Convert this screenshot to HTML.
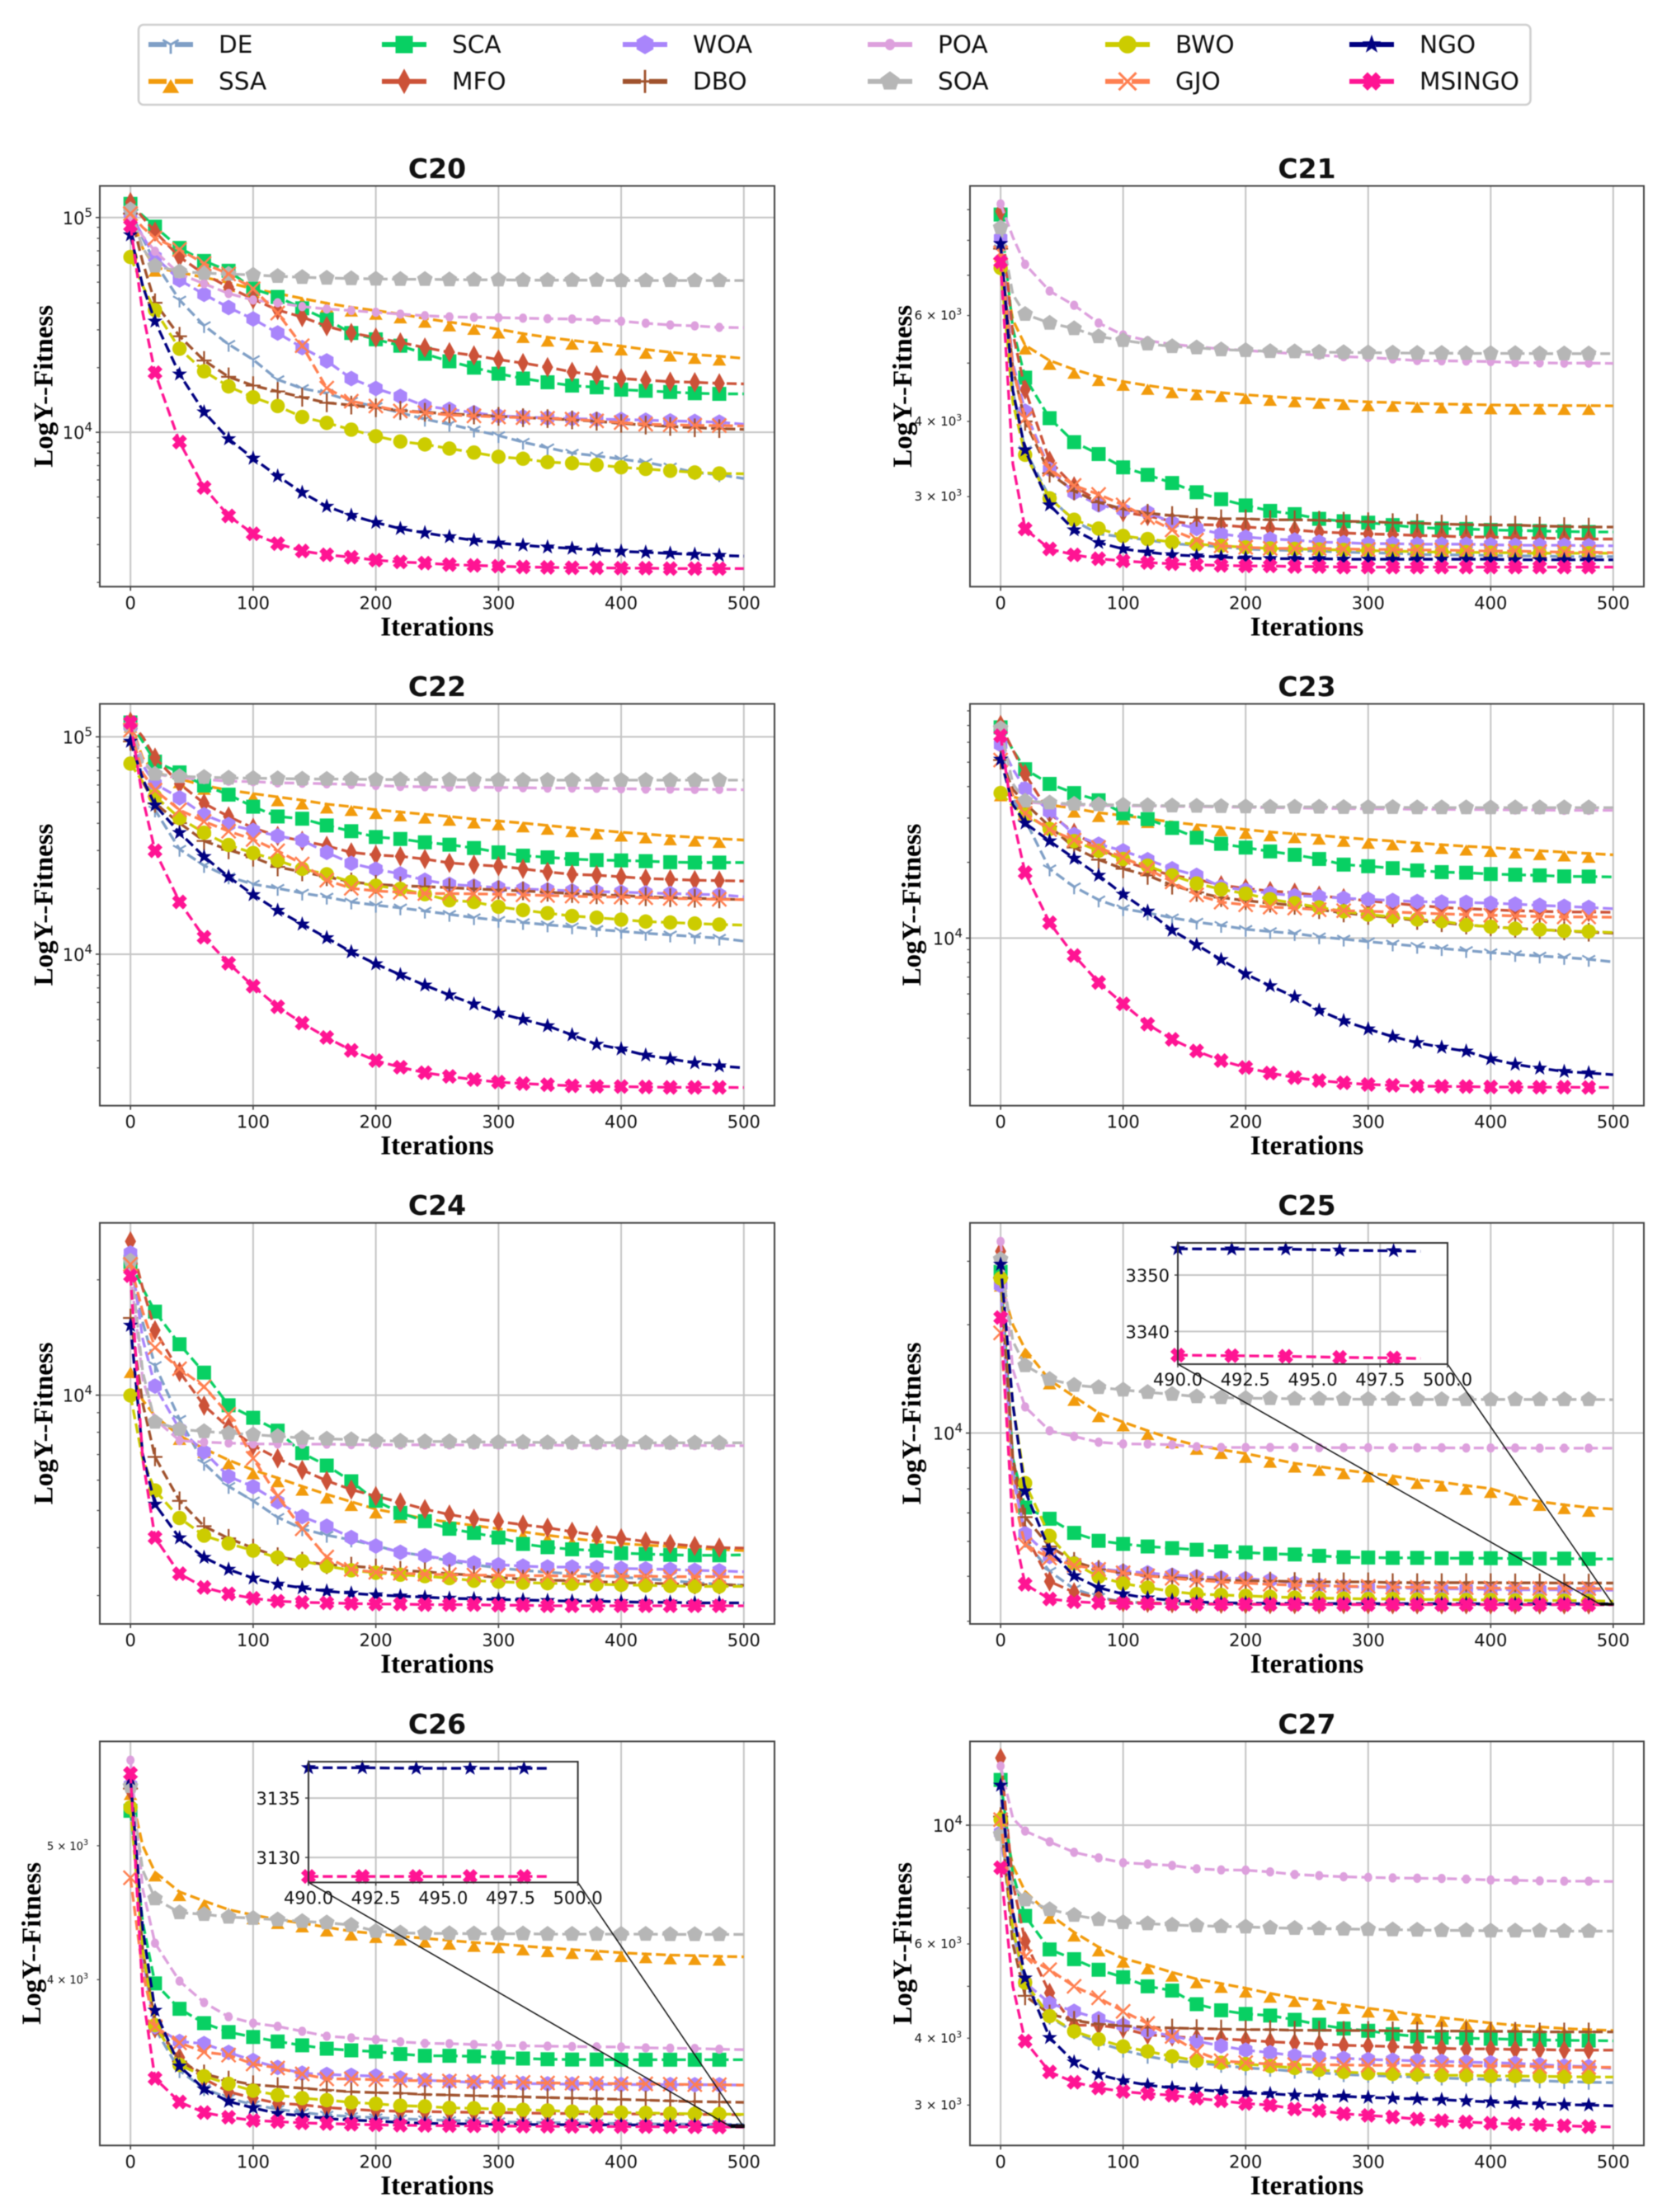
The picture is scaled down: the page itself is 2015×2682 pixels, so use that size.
<!DOCTYPE html>
<html lang="en">
<head>
<meta charset="utf-8">
<title>Convergence curves C20-C27</title>
<style>
html,body{margin:0;padding:0;background:#fff;}
svg{display:block;filter:blur(.55px);}
text{font-family:"DejaVu Sans",sans-serif;fill:#111;}
.serif{font-family:"Liberation Serif",serif;font-weight:bold;fill:#000;}
</style>
</head>
<body>
<svg id="figure" xmlns="http://www.w3.org/2000/svg" width="2015" height="2682" viewBox="0 0 2015 2682"></svg>
<script>
const ITERATIONS=[0,20,40,60,80,100,120,140,160,180,200,220,240,260,280,300,320,340,360,380,400,420,440,460,480,500];
const KNEE_ITERATION=10;
const X_TICKS=[0,100,200,300,400,500];
const SERIES_NAMES=['DE','SSA','SCA','MFO','WOA','DBO','POA','SOA','BWO','GJO','NGO','MSINGO'];
const SERIES_COLORS=['#7f9fc6','#f29b0c','#08d063','#cc5238','#a985fb','#a0522d','#dda0dd','#b6b6b6','#cccc00','#ff7f50','#000080','#ff1493'];
const SERIES_MARKERS=['tri','up','square','thin','hex','plus','dot','pent','circle','x','star','fatx'];

const C20_DE=[108000,61700,41300,31400,25700,21800,17600,16000,15200,13960,13180,12340,11510,10900,10250,9660,9000,8470,8000,7770,7500,7240,6900,6500,6350,6090];
const C20_SSA=[104300,58600,55500,52700,49700,46600,44300,42000,39900,38200,36900,35500,33900,32600,31400,30200,28800,27700,26800,26000,25200,24300,23600,23000,22600,22100];
const C20_SCA=[115800,90700,72200,62800,56500,46600,42700,37800,33500,29000,27100,25300,23200,21400,20000,18750,17800,17100,16500,16200,15800,15600,15400,15200,15100,15100];
const C20_MFO=[117900,86000,65500,54600,47400,41700,37100,34400,31200,29000,27600,26200,24800,23600,22800,21800,21000,20100,19100,18450,17800,17500,17200,17100,16900,16800];
const C20_WOA=[104300,65500,51250,43900,38100,33700,29000,24800,21500,17800,16000,14700,13250,12800,12340,11920,11790,11660,11580,11510,11470,11390,11300,11230,11150,10900];
const C20_DBO=[104300,40100,28000,21600,18120,16500,15500,14560,13720,13380,13000,12650,12400,12200,12040,11870,11700,11580,11420,11250,11000,10800,10650,10500,10400,10320];
const C20_POA=[97200,69700,54600,49200,44300,41300,40100,38500,37500,36900,36200,35500,34900,34500,34300,34200,34000,33800,33700,33300,32900,32200,31600,31300,30800,30700];
const C20_SOA=[108800,59600,56100,55100,54600,54000,53300,52700,52300,52000,51800,51600,51600,51400,51300,51300,51100,51100,51100,51100,50900,50900,50900,50900,50900,50900];
const C20_BWO=[65500,37100,24500,19230,16360,14560,13250,11790,11060,10290,9590,9060,8780,8400,8050,7690,7530,7260,7180,7050,6870,6750,6620,6500,6430,6410];
const C20_GJO=[104300,80200,71000,61100,54600,46600,35900,25300,16060,13960,13250,12560,12340,12040,11920,11790,11700,11620,11510,11300,11100,10900,10840,10770,10740,10700];
const C20_NGO=[83000,32900,18650,12420,9320,7560,6250,5240,4520,4100,3800,3560,3400,3260,3140,3050,2980,2920,2880,2830,2790,2760,2730,2700,2670,2650];
const C20_MSINGO=[91600,18950,9000,5530,4080,3370,3030,2800,2690,2620,2540,2490,2460,2420,2400,2380,2360,2350,2340,2340,2330,2330,2320,2320,2320,2320];
const C20_AT_KNEE=[80000,72000,102000,100000,82000,62000,82000,72000,48000,90000,48000,36000];

const C21_DE=[7750,3585,2990,2735,2600,2570,2540,2505,2490,2475,2455,2445,2440,2435,2425,2420,2415,2405,2400,2400,2395,2390,2390,2385,2385,2385];
const C21_SSA=[7630,5355,5050,4880,4745,4660,4590,4530,4495,4465,4430,4400,4375,4350,4330,4310,4300,4285,4275,4270,4260,4255,4255,4250,4250,4245];
const C21_SCA=[8830,4730,4050,3695,3530,3355,3260,3160,3050,2970,2900,2840,2805,2755,2730,2715,2690,2665,2655,2650,2640,2635,2630,2625,2620,2620];
const C21_MFO=[8940,4520,3440,3120,2950,2825,2785,2730,2695,2690,2670,2655,2640,2620,2610,2600,2595,2585,2580,2570,2570,2560,2560,2555,2550,2550];
const C21_WOA=[8060,4160,3330,3045,2905,2850,2825,2715,2655,2600,2570,2550,2540,2520,2515,2505,2505,2500,2500,2500,2495,2490,2490,2490,2485,2485];
const C21_DBO=[7750,4000,3280,3065,2935,2860,2815,2790,2770,2755,2755,2745,2745,2740,2730,2725,2715,2710,2700,2695,2690,2690,2680,2675,2670,2670];
const C21_POA=[9197,7300,6590,6240,5830,5570,5450,5375,5323,5280,5250,5215,5185,5155,5125,5110,5080,5050,5045,5040,5030,5010,5005,5000,5000,4995];
const C21_SOA=[8400,6030,5830,5708,5535,5455,5385,5330,5305,5265,5250,5230,5225,5215,5210,5205,5200,5195,5195,5190,5190,5190,5185,5185,5185,5185];
const C21_BWO=[7200,3520,2980,2745,2655,2580,2550,2520,2500,2485,2470,2460,2455,2450,2445,2440,2435,2430,2425,2425,2420,2420,2415,2415,2415,2415];
const C21_GJO=[7630,4045,3330,3130,3025,2905,2770,2640,2540,2485,2470,2460,2460,2460,2455,2450,2450,2445,2445,2440,2435,2435,2430,2425,2425,2420];
const C21_NGO=[7900,3585,2905,2640,2515,2455,2425,2400,2390,2380,2370,2365,2365,2365,2360,2360,2360,2360,2360,2360,2360,2355,2355,2355,2355,2355];
const C21_MSINGO=[7370,2650,2455,2400,2365,2345,2330,2320,2310,2305,2300,2300,2295,2295,2290,2290,2290,2290,2290,2290,2290,2290,2290,2290,2290,2290];
const C21_AT_KNEE=[4500,5900,5700,5600,5000,4900,8100,6500,4300,4900,4500,3400];

const C22_DE=[111300,46100,30400,25600,22700,21000,20100,19100,18320,17390,16800,16340,15790,15250,14730,14320,13990,13650,13370,13000,12740,12480,12270,12050,11850,11490];
const C22_SSA=[115200,68600,64000,59700,56800,54800,52900,51100,49000,47700,46200,45100,44000,43000,41800,41000,40100,39100,38100,37200,36400,35700,35000,34500,34000,33500];
const C22_SCA=[116400,76900,68600,59700,54200,47700,43000,42000,39100,36800,34600,33900,32700,31900,30800,29400,28400,27900,27400,27100,27000,26800,26500,26400,26400,26400];
const C22_MFO=[117200,80200,60800,49400,43000,38100,35000,33200,31500,29400,28600,28200,27400,26300,25800,25400,24700,23900,23300,23100,22700,22300,22100,21900,21800,21700];
const C22_WOA=[111300,60800,52400,43800,39500,37100,35000,33400,29400,26200,24600,23400,21900,20950,20600,20240,19960,19770,19550,19410,19280,19150,19010,18880,18760,18370];
const C22_DBO=[95300,49400,40100,33200,30200,27900,25200,23900,22700,21500,20950,20650,20450,20240,19960,19770,19550,19280,19010,18760,18620,18370,18200,18070,17950,17820];
const C22_POA=[113200,67400,64700,63600,62500,62200,61400,61200,60800,60400,59700,59100,58900,58700,58700,58500,58300,58100,58100,58000,57700,57500,57500,57300,57300,57100];
const C22_SOA=[111300,67400,65800,65200,64700,64500,64300,64000,63900,63900,63600,63600,63600,63400,63400,63400,63200,63200,63200,63200,63200,63200,63200,63200,63200,63200];
const C22_BWO=[75300,53300,42300,36200,31800,29200,27000,24700,23300,21500,20650,19960,18880,17700,17390,16520,15950,15450,14990,14730,14420,14130,13990,13840,13700,13610];
const C22_GJO=[107500,56800,46100,40800,36800,33700,29900,26000,21900,20100,19550,19280,19010,19010,18950,18880,18760,18620,18500,18370,18320,18200,18070,17950,17890,17820];
const C22_NGO=[95300,48500,36200,28100,22700,18770,15890,13740,11890,10240,9020,8040,7200,6490,5890,5350,5010,4680,4250,3850,3660,3430,3300,3160,3060,3000];
const C22_MSINGO=[116500,29900,17400,11970,9080,7130,5730,4820,4140,3610,3240,3020,2850,2740,2650,2580,2540,2510,2480,2465,2460,2450,2440,2440,2440,2435];
const C22_AT_KNEE=[64000,80000,95000,100000,74000,62000,78000,76000,62000,68000,64000,52000];

const C23_DE=[58700,29500,18850,15990,14190,13090,12590,12040,11580,11240,10840,10620,10430,10120,9910,9680,9480,9280,9090,8930,8750,8610,8490,8380,8240,8040];
const C23_SSA=[38050,35300,33800,32800,31500,30700,29800,28900,28200,27650,27000,26400,25950,25600,25100,24660,24300,23880,23500,23170,22900,22560,22230,21960,21690,21430];
const C23_SCA=[68800,46900,41000,37700,35300,31300,29700,27400,25050,23700,22900,22100,21430,20620,19590,19300,18960,18570,18290,18190,17970,17860,17750,17590,17560,17500];
const C23_MFO=[70300,44900,31300,26200,22900,20300,18850,17750,17130,16220,15760,15380,15150,14750,14400,14060,13770,13490,13240,13090,12970,12850,12780,12700,12700,12660];
const C23_WOA=[58700,39200,31800,25800,23600,22230,20500,18850,17750,15990,15520,15060,14750,14620,14400,14270,14100,13970,13900,13860,13770,13650,13490,13370,13240,13090];
const C23_DBO=[51000,34300,27800,22900,20500,18850,17750,16220,15200,14490,14100,13770,13490,12970,12590,12300,12040,11750,11510,11270,11100,10940,10810,10680,10550,10460];
const C23_POA=[68200,34800,34100,33850,33660,33570,33480,33390,33300,33200,33100,33000,32900,32800,32700,32700,32600,32500,32500,32400,32400,32300,32300,32200,32200,32200];
const C23_SOA=[68200,35100,34500,34100,33950,33800,33660,33570,33480,33390,33300,33200,33200,33200,33100,33100,33100,33000,33000,33000,33000,33000,33000,33000,33000,33000];
const C23_BWO=[37700,30900,27150,24300,22230,20620,19410,17750,16490,15620,15020,14270,13770,13240,12780,12400,12140,11860,11680,11270,11100,10900,10810,10680,10620,10520];
const C23_GJO=[51000,31300,27000,24500,22900,20940,18850,16730,14840,13900,13560,13280,13160,12970,12850,12780,12700,12590,12480,12400,12330,12250,12190,12140,12140,12100];
const C23_NGO=[51300,28650,24300,20750,17750,14930,12780,10740,9400,8210,7200,6460,5840,5160,4690,4350,4060,3840,3680,3550,3310,3150,3040,2950,2910,2865];
const C23_MSINGO=[63700,18200,11510,8530,6660,5480,4550,3960,3560,3260,3060,2910,2790,2715,2660,2620,2600,2580,2575,2570,2560,2560,2555,2555,2550,2550];
const C23_AT_KNEE=[36000,36500,56000,56000,47000,39000,41000,41000,33500,37000,34000,30000];

const C24_DE=[21730,11960,8650,6640,5780,5300,4800,4480,4310,4190,4050,3890,3810,3690,3610,3540,3490,3450,3420,3390,3350,3320,3280,3240,3210,3190];
const C24_SSA=[11720,8820,7840,7250,6770,6380,6080,5780,5510,5270,5040,4900,4760,4660,4570,4480,4400,4310,4230,4160,4100,4060,4030,3990,3960,3930];
const C24_SCA=[22260,16520,13580,11450,9410,8730,8080,7060,6550,5960,5300,4930,4690,4480,4370,4250,4090,4010,3960,3930,3870,3850,3830,3820,3820,3830];
const C24_MFO=[25200,14770,11500,9390,8240,7390,6840,6380,5980,5670,5450,5250,5040,4880,4760,4680,4590,4510,4400,4310,4230,4150,4090,4040,4000,3990];
const C24_WOA=[23500,10560,8150,7110,6140,5770,5270,4820,4550,4250,4040,3890,3810,3720,3650,3610,3580,3560,3560,3550,3530,3520,3510,3490,3480,3460];
const C24_DBO=[15900,6900,5300,4550,4230,3990,3790,3690,3610,3580,3540,3490,3460,3420,3390,3340,3310,3290,3280,3260,3240,3230,3220,3200,3200,3190];
const C24_POA=[20900,8650,7610,7540,7500,7460,7460,7450,7450,7430,7430,7420,7420,7420,7410,7410,7410,7410,7390,7390,7390,7390,7390,7390,7380,7380];
const C24_SOA=[22400,8510,8150,8040,7960,7890,7810,7730,7690,7660,7610,7590,7570,7570,7550,7540,7540,7520,7520,7520,7520,7510,7510,7510,7510,7510];
const C24_BWO=[9980,5640,4780,4300,4100,3930,3770,3690,3580,3490,3440,3400,3370,3330,3280,3260,3240,3230,3220,3210,3200,3190,3180,3170,3170,3170];
const C24_GJO=[21960,13310,11720,10520,8910,6840,5450,4480,3780,3510,3450,3430,3410,3400,3390,3390,3380,3380,3370,3370,3370,3370,3360,3360,3360,3350];
const C24_NGO=[15210,5190,4240,3770,3510,3330,3210,3140,3080,3040,3010,2990,2970,2950,2940,2930,2920,2910,2900,2900,2890,2880,2880,2870,2870,2870];
const C24_MSINGO=[20500,4250,3420,3150,3030,2950,2900,2880,2870,2860,2850,2850,2840,2840,2840,2830,2830,2820,2820,2820,2820,2820,2820,2820,2820,2820];
const C24_AT_KNEE=[15500,9700,19000,19000,14000,9500,11000,11500,6800,16500,7000,6800];

const C25_DE=[27500,5040,4130,3690,3500,3400,3370,3355,3350,3348,3346,3345,3344,3343,3343,3342,3342,3341,3341,3340,3340,3340,3339,3339,3338,3338];
const C25_SSA=[26240,17100,14030,12630,11380,10730,10150,9630,9240,8990,8770,8500,8240,8070,7900,7740,7600,7420,7300,7150,7010,6680,6450,6320,6210,6150];
const C25_SCA=[28050,6210,5780,5280,5020,4920,4840,4790,4740,4690,4660,4620,4600,4560,4520,4510,4500,4500,4490,4490,4490,4480,4480,4480,4470,4470];
const C25_MFO=[31990,5260,3870,3610,3480,3390,3375,3365,3358,3354,3350,3348,3347,3346,3345,3344,3343,3342,3342,3341,3341,3340,3340,3340,3340,3339];
const C25_WOA=[25700,5260,4540,4360,4200,4130,4090,4030,3990,3960,3940,3900,3830,3780,3750,3730,3720,3700,3690,3690,3680,3670,3670,3670,3660,3660];
const C25_DBO=[27000,5840,4840,4400,4180,4090,4010,3970,3930,3900,3890,3880,3870,3860,3860,3860,3840,3840,3840,3840,3840,3835,3835,3830,3830,3830];
const C25_POA=[34060,11820,10150,9790,9430,9330,9320,9280,9160,9120,9120,9120,9120,9110,9110,9110,9100,9100,9100,9090,9090,9090,9080,9080,9080,9080];
const C25_SOA=[30400,15400,14110,13590,13390,13180,12980,12820,12630,12550,12500,12480,12450,12450,12420,12420,12420,12400,12400,12400,12400,12400,12400,12400,12400,12380];
const C25_BWO=[26900,7260,5180,4340,3990,3820,3720,3630,3570,3550,3530,3510,3490,3480,3470,3460,3460,3450,3445,3440,3440,3430,3425,3425,3420,3410];
const C25_GJO=[18980,4890,4500,4290,4180,4090,4010,3950,3900,3860,3830,3800,3780,3770,3750,3750,3730,3730,3720,3720,3710,3710,3700,3700,3700,3690];
const C25_NGO=[29430,6900,4720,4010,3720,3570,3480,3430,3395,3375,3368,3364,3361,3360,3359,3358,3358,3357,3357,3356,3356,3355,3355,3355,3354.4,3354.2];
const C25_MSINGO=[20940,3800,3460,3400,3375,3365,3360,3352,3348,3345,3343,3342,3341,3340,3339.5,3339,3338.5,3338,3337.5,3337,3337,3336.5,3336.3,3336,3335.7,3335.3];
const C25_AT_KNEE=[8000,20000,8500,8000,7500,8500,15000,18000,12000,6800,12000,5500];

const C26_DE=[5500,3688,3437,3336,3283,3247,3223,3205,3192,3184,3178,3172,3167,3163,3160,3157,3153,3152,3150,3148,3147,3145,3145,3143,3143,3142];
const C26_SSA=[5480,4785,4630,4560,4495,4455,4420,4395,4365,4336,4318,4300,4285,4270,4255,4245,4230,4218,4205,4195,4183,4175,4167,4163,4158,4155];
const C26_SCA=[5300,3975,3810,3720,3665,3635,3608,3585,3565,3555,3548,3533,3523,3523,3520,3513,3507,3503,3501,3501,3500,3500,3500,3500,3500,3500];
const C26_MFO=[5480,3688,3513,3390,3318,3283,3255,3247,3232,3223,3215,3212,3210,3208,3206,3205,3203,3200,3200,3198,3198,3197,3197,3195,3195,3193];
const C26_WOA=[5530,3698,3608,3595,3543,3495,3455,3422,3415,3410,3406,3395,3383,3376,3370,3366,3364,3362,3360,3360,3358,3358,3358,3357,3357,3355];
const C26_DBO=[5500,3730,3490,3418,3383,3357,3347,3338,3327,3318,3313,3310,3303,3300,3296,3293,3290,3286,3283,3280,3276,3272,3268,3264,3262,3260];
const C26_POA=[5767,4250,3990,3850,3760,3720,3700,3670,3640,3630,3620,3606,3597,3595,3590,3585,3582,3580,3578,3576,3575,3570,3568,3566,3562,3559];
const C26_SOA=[5520,4578,4473,4460,4440,4431,4420,4408,4398,4381,4336,4325,4320,4320,4318,4318,4318,4315,4315,4315,4315,4315,4313,4313,4313,4313];
const C26_BWO=[5330,3708,3470,3405,3362,3324,3300,3283,3272,3260,3252,3242,3238,3230,3228,3223,3220,3216,3210,3208,3205,3203,3200,3198,3197,3195];
const C26_GJO=[4740,3698,3600,3545,3527,3475,3452,3418,3390,3390,3385,3381,3380,3378,3375,3373,3370,3367,3366,3365,3363,3362,3360,3358,3357,3355];
const C26_NGO=[5590,3800,3463,3333,3265,3230,3200,3188,3173,3165,3160,3153,3148,3146,3144,3143,3142,3141,3140.5,3140,3139.6,3139.2,3138.8,3138.3,3137.8,3137.5];
const C26_MSINGO=[5640,3393,3262,3205,3180,3163,3157,3150,3147,3143,3140,3138,3136.5,3135.5,3134.5,3134,3133,3132.5,3132,3131.5,3131,3130.5,3130,3129.5,3128.6,3128.3];
const C26_AT_KNEE=[4150,5000,4400,4200,4150,4200,4650,4800,4200,4050,4350,3900];

const C27_DE=[10100,5000,4380,4110,3920,3800,3700,3630,3600,3560,3520,3500,3470,3450,3420,3410,3395,3385,3370,3360,3350,3340,3330,3320,3310,3305];
const C27_SSA=[10680,7520,6810,6310,5920,5640,5480,5310,5160,5060,4960,4850,4760,4700,4620,4550,4490,4420,4370,4320,4270,4230,4200,4170,4150,4135];
const C27_SCA=[12150,6770,5860,5620,5370,5200,5000,4910,4630,4510,4440,4410,4330,4240,4170,4130,4070,4030,4010,4000,3990,3980,3970,3965,3960,3955];
const C27_MFO=[13350,6070,4860,4230,4230,4170,4060,4030,4000,3990,3965,3940,3920,3900,3880,3870,3860,3840,3830,3820,3820,3810,3810,3800,3800,3800];
const C27_WOA=[9680,5080,4650,4490,4350,4230,4120,4040,3950,3870,3800,3760,3710,3690,3670,3650,3640,3630,3620,3610,3600,3590,3570,3550,3540,3510];
const C27_DBO=[10380,4800,4440,4320,4250,4220,4190,4180,4170,4160,4150,4150,4140,4140,4135,4135,4130,4125,4125,4125,4120,4120,4110,4110,4110,4110];
const C27_POA=[12900,9750,9310,8900,8690,8510,8460,8410,8290,8250,8240,8180,8090,8050,8010,7990,7970,7960,7950,7930,7900,7890,7870,7860,7860,7850];
const C27_SOA=[9610,7260,6960,6790,6670,6580,6550,6510,6490,6470,6460,6430,6420,6410,6400,6390,6380,6370,6360,6360,6350,6350,6350,6340,6340,6340];
const C27_BWO=[10240,5080,4400,4120,3980,3860,3780,3700,3630,3600,3580,3550,3520,3490,3460,3440,3430,3420,3410,3410,3400,3400,3395,3390,3385,3385];
const C27_GJO=[10240,5680,5370,5000,4760,4490,4260,4030,3780,3630,3600,3580,3570,3570,3565,3560,3560,3555,3555,3550,3550,3550,3540,3535,3530,3530];
const C27_NGO=[11870,5180,4010,3610,3420,3330,3270,3230,3210,3180,3160,3150,3130,3120,3115,3100,3090,3080,3070,3055,3040,3030,3015,3005,3000,2990];
const C27_MSINGO=[8330,3950,3460,3310,3230,3180,3150,3130,3090,3055,3020,3000,2950,2930,2890,2870,2850,2825,2805,2790,2775,2765,2755,2745,2735,2730];
const C27_AT_KNEE=[6400,8400,8100,7800,6300,6000,10300,7700,6400,6800,6900,5000];

const INSET_ITERATIONS=[490,492,494,496,498,499];
const INSET_X_TICKS=[490,492.5,495,497.5,500];
const C25_INSET_NGO=[3354.65,3354.6,3354.6,3354.4,3354.3,3354.2];
const C25_INSET_MSINGO=[3335.8,3335.7,3335.6,3335.4,3335.3,3335.2];
const C26_INSET_NGO=[3137.55,3137.55,3137.5,3137.5,3137.5,3137.5];
const C26_INSET_MSINGO=[3128.4,3128.4,3128.4,3128.4,3128.4,3128.4];

const COLUMNS=[{left:121,right:939},{left:1176,right:1993}];
const ROWS=[{top:225.4,bottom:711.3},{top:853.4,bottom:1340.6},{top:1482.7,bottom:1969},{top:2111.4,bottom:2601.3}];

const PANELS=[
 {title:'C20',col:0,row:0,yMin:1911,yMax:140400,major:[100000,10000],labeled:[],labelX:63.6,knee:C20_AT_KNEE,series:[C20_DE,C20_SSA,C20_SCA,C20_MFO,C20_WOA,C20_DBO,C20_POA,C20_SOA,C20_BWO,C20_GJO,C20_NGO,C20_MSINGO]},
 {title:'C21',col:1,row:0,yMin:2125,yMax:9855,major:[],labeled:[6000,4000,3000],labelX:1105,knee:C21_AT_KNEE,series:[C21_DE,C21_SSA,C21_SCA,C21_MFO,C21_WOA,C21_DBO,C21_POA,C21_SOA,C21_BWO,C21_GJO,C21_NGO,C21_MSINGO]},
 {title:'C22',col:0,row:1,yMin:2010,yMax:141800,major:[100000,10000],labeled:[],labelX:63.6,knee:C22_AT_KNEE,series:[C22_DE,C22_SSA,C22_SCA,C22_MFO,C22_WOA,C22_DBO,C22_POA,C22_SOA,C22_BWO,C22_GJO,C22_NGO,C22_MSINGO]},
 {title:'C23',col:1,row:1,yMin:2158,yMax:85300,major:[10000],labeled:[],labelX:1116,knee:C23_AT_KNEE,series:[C23_DE,C23_SSA,C23_SCA,C23_MFO,C23_WOA,C23_DBO,C23_POA,C23_SOA,C23_BWO,C23_GJO,C23_NGO,C23_MSINGO]},
 {title:'C24',col:0,row:2,yMin:2529,yMax:28160,major:[10000],labeled:[],labelX:63.6,knee:C24_AT_KNEE,series:[C24_DE,C24_SSA,C24_SCA,C24_MFO,C24_WOA,C24_DBO,C24_POA,C24_SOA,C24_BWO,C24_GJO,C24_NGO,C24_MSINGO]},
 {title:'C25',col:1,row:2,yMin:2949,yMax:38370,major:[10000],labeled:[],labelX:1116,knee:C25_AT_KNEE,series:[C25_DE,C25_SSA,C25_SCA,C25_MFO,C25_WOA,C25_DBO,C25_POA,C25_SOA,C25_BWO,C25_GJO,C25_NGO,C25_MSINGO],
  inset:{left:1428,right:1755,top:1507,bottom:1654,yMin:3334.2,yMax:3355.7,yTicks:[3350,3340],ngo:C25_INSET_NGO,msingo:C25_INSET_MSINGO}},
 {title:'C26',col:0,row:3,yMin:3034,yMax:5950,major:[],labeled:[5000,4000],labelX:49,smallLabels:true,knee:C26_AT_KNEE,series:[C26_DE,C26_SSA,C26_SCA,C26_MFO,C26_WOA,C26_DBO,C26_POA,C26_SOA,C26_BWO,C26_GJO,C26_NGO,C26_MSINGO],
  inset:{left:374,right:700.6,top:2136,bottom:2282.4,yMin:3127.9,yMax:3138.06,yTicks:[3135,3130],ngo:C26_INSET_NGO,msingo:C26_INSET_MSINGO}},
 {title:'C27',col:1,row:3,yMin:2522,yMax:14340,major:[10000],labeled:[6000,4000,3000],labelX:1105,knee:C27_AT_KNEE,series:[C27_DE,C27_SSA,C27_SCA,C27_MFO,C27_WOA,C27_DBO,C27_POA,C27_SOA,C27_BWO,C27_GJO,C27_NGO,C27_MSINGO]}
];

const NS='http://www.w3.org/2000/svg';
const figure=document.getElementById('figure');
const CHART_MARKER_SCALE=1.13;

function make(tag,attrs,parent){
  const e=document.createElementNS(NS,tag);
  for(const k in attrs){e.setAttribute(k,attrs[k]);}
  if(parent){parent.appendChild(e);}
  return e;
}
function regular(n,r,rot){
  const pts=[];
  for(let i=0;i<n;i++){
    const a=rot+i*2*Math.PI/n;
    pts.push((r*Math.cos(a)).toFixed(2)+','+(r*Math.sin(a)).toFixed(2));
  }
  return pts.join(' ');
}
function starPoints(R,r){
  const pts=[];
  for(let i=0;i<10;i++){
    const a=-Math.PI/2+i*Math.PI/5;
    const q=i%2?r:R;
    pts.push((q*Math.cos(a)).toFixed(2)+','+(q*Math.sin(a)).toFixed(2));
  }
  return pts.join(' ');
}
function drawMarker(kind,cx,cy,s,color,parent){
  const g=make('g',{transform:'translate('+cx.toFixed(2)+' '+cy.toFixed(2)+') scale('+s+')'},parent);
  if(kind==='tri'){make('path',{d:'M0 0V8M0 0L-6.9-4M0 0L6.9-4',fill:'none',stroke:color,'stroke-width':2},g);}
  else if(kind==='up'){make('polygon',{points:'0,-2 7.3,10 -7.3,10',fill:color},g);}
  else if(kind==='square'){make('rect',{x:-7.5,y:-7.5,width:15,height:15,fill:color},g);}
  else if(kind==='thin'){make('polygon',{points:'0,-11 6,0 0,11 -6,0',fill:color},g);}
  else if(kind==='hex'){make('polygon',{points:regular(6,8.4,-Math.PI/2),fill:color},g);}
  else if(kind==='plus'){make('path',{d:'M0-10V10M-8 0H8',fill:'none',stroke:color,'stroke-width':2},g);}
  else if(kind==='dot'){make('ellipse',{cx:0,cy:0,rx:4.4,ry:5,fill:color},g);}
  else if(kind==='pent'){make('polygon',{points:regular(5,8.8,-Math.PI/2),fill:color},g);}
  else if(kind==='circle'){make('circle',{cx:0,cy:0,r:7.7,fill:color},g);}
  else if(kind==='x'){make('path',{d:'M-7.5-7.5L7.5 7.5M-7.5 7.5L7.5-7.5',fill:'none',stroke:color,'stroke-width':2.2},g);}
  else if(kind==='star'){make('polygon',{points:starPoints(8.6,3.4),fill:color},g);}
  else{make('polygon',{points:'-8,-3.6 -3.6,-8 0,-4.4 3.6,-8 8,-3.6 4.4,0 8,3.6 3.6,8 0,4.4 -3.6,8 -8,3.6 -4.4,0',fill:color},g);}
  return g;
}
function linePath(xs,ys){
  return xs.map(function(x,i){return (i?'L':'M')+x.toFixed(2)+' '+ys[i].toFixed(2);}).join('');
}
function superscriptLabel(parent,x,y,base,exp,size,supSize,rise){
  const t=make('text',{x:x,y:y,'text-anchor':'end','font-size':size},parent);
  const a=make('tspan',{},t);
  a.textContent=base;
  const b=make('tspan',{dy:-rise,'font-size':supSize},t);
  b.textContent=exp;
  return t;
}

function drawLegend(){
  const legend=make('g',{},figure);
  
  
  make('rect',{x:168,y:30,width:1687.5,height:97,rx:6,fill:'#fff',stroke:'#cfcfcf','stroke-width':2.6},legend);
  const handleX=[180,463,755,1052,1340,1636];
  const rowY=[54,98.7];
  SERIES_NAMES.forEach(function(name,i){
    const col=Math.floor(i/2), row=i%2;
    const entry=make('g',{},legend);
    
    
    make('line',{x1:handleX[col],x2:handleX[col]+54,y1:rowY[row],y2:rowY[row],stroke:SERIES_COLORS[i],'stroke-width':6,'stroke-dasharray':'22 10 22'},entry);
    drawMarker(SERIES_MARKERS[i],handleX[col]+27,rowY[row],1.4,SERIES_COLORS[i],entry);
    const label=make('text',{x:handleX[col]+85,y:rowY[row]+10,'font-size':29.5},entry);
    label.textContent=name;
  });
}

function drawInset(panel,g,xAt,yAt){
  const inset=panel.inset;
  const ix=function(t){return inset.left+(t-490)/10*(inset.right-inset.left);};
  const iy=function(v){return inset.top+(inset.yMax-v)/(inset.yMax-inset.yMin)*(inset.bottom-inset.top);};
  const conn=make('g',{},g);
  
  
  const rx0=xAt(490), rx1=xAt(500), ry0=yAt(inset.yMax), ry1=yAt(inset.yMin);
  make('rect',{x:rx0,y:ry0,width:rx1-rx0,height:ry1-ry0,fill:'none',stroke:'#000','stroke-width':2},conn);
  make('line',{x1:inset.left,y1:inset.bottom,x2:rx0,y2:ry1,stroke:'#111','stroke-width':1.5},conn);
  make('line',{x1:inset.right,y1:inset.bottom,x2:rx1,y2:ry1,stroke:'#111','stroke-width':1.5},conn);
  const box=make('g',{},g);
  
  
  make('rect',{x:inset.left,y:inset.top,width:inset.right-inset.left,height:inset.bottom-inset.top,fill:'#fff'},box);
  INSET_X_TICKS.forEach(function(t){
    make('line',{x1:ix(t),x2:ix(t),y1:inset.top,y2:inset.bottom,stroke:'#c4c4c4','stroke-width':2},box);
    make('line',{x1:ix(t),x2:ix(t),y1:inset.bottom,y2:inset.bottom+4,stroke:'#444','stroke-width':1.5},box);
    const lab=make('text',{x:ix(t),y:inset.bottom+26,'text-anchor':'middle','font-size':21},box);
    lab.textContent=t.toFixed(1);
  });
  inset.yTicks.forEach(function(v){
    make('line',{x1:inset.left,x2:inset.right,y1:iy(v),y2:iy(v),stroke:'#c4c4c4','stroke-width':2},box);
    make('line',{x1:inset.left-4,x2:inset.left,y1:iy(v),y2:iy(v),stroke:'#444','stroke-width':1.5},box);
    const lab=make('text',{x:inset.left-10,y:iy(v)+8,'text-anchor':'end','font-size':21},box);
    lab.textContent=String(v);
  });
  [[inset.ngo,10],[inset.msingo,11]].forEach(function(pair){
    const values=pair[0], idx=pair[1];
    const xs=INSET_ITERATIONS.map(ix), ys=values.map(iy);
    const path=make('path',{d:linePath(xs,ys),fill:'none',stroke:SERIES_COLORS[idx],'stroke-width':3.3,'stroke-dasharray':'12 5.3'},box);
    
    
    INSET_ITERATIONS.forEach(function(t,i){
      if(t===499){return;}
      const m=drawMarker(SERIES_MARKERS[idx],xs[i],ys[i],CHART_MARKER_SCALE,SERIES_COLORS[idx],box);
      
      
    });
  });
  make('rect',{x:inset.left,y:inset.top,width:inset.right-inset.left,height:inset.bottom-inset.top,fill:'none',stroke:'#333','stroke-width':2},box);
}

function drawPanel(panel){
  const col=COLUMNS[panel.col], row=ROWS[panel.row];
  const logMax=Math.log10(panel.yMax), logMin=Math.log10(panel.yMin);
  const xAt=function(t){return col.left+(t+25)/550*(col.right-col.left);};
  const yAt=function(v){return row.top+(logMax-Math.log10(v))/(logMax-logMin)*(row.bottom-row.top);};
  const g=make('g',{},figure);
  
  

  const title=make('text',{x:(col.left+col.right)/2,y:row.top-9.5,'text-anchor':'middle','font-size':33,'font-weight':'bold',fill:'#000'},g);
  title.textContent=panel.title;
  
  

  const grid=make('g',{},g);
  
  
  X_TICKS.forEach(function(t){
    make('line',{x1:xAt(t),x2:xAt(t),y1:row.top,y2:row.bottom,stroke:'#c4c4c4','stroke-width':2},grid);
  });
  panel.major.forEach(function(v){
    make('line',{x1:col.left,x2:col.right,y1:yAt(v),y2:yAt(v),stroke:'#c4c4c4','stroke-width':2},grid);
  });

  const seriesLayer=make('g',{},g);
  
  
  panel.series.forEach(function(values,idx){
    const name=SERIES_NAMES[idx].toLowerCase();
    const xs=ITERATIONS.map(xAt), ys=values.map(yAt);
    const lineXs=xs.slice(), lineYs=ys.slice();
    lineXs.splice(1,0,xAt(KNEE_ITERATION));
    lineYs.splice(1,0,yAt(panel.knee[idx]));
    const group=make('g',{},seriesLayer);
    
    
    const path=make('path',{d:linePath(lineXs,lineYs),fill:'none',stroke:SERIES_COLORS[idx],'stroke-width':3.3,'stroke-dasharray':'12 5.3','stroke-linejoin':'round'},group);
    
    
    ITERATIONS.forEach(function(t,i){
      if(t>=500){return;}
      const m=drawMarker(SERIES_MARKERS[idx],xs[i],ys[i],CHART_MARKER_SCALE,SERIES_COLORS[idx],group);
      
      
    });
  });

  const axes=make('g',{},g);
  
  
  make('rect',{x:col.left,y:row.top,width:col.right-col.left,height:row.bottom-row.top,fill:'none',stroke:'#444','stroke-width':2},axes);
  X_TICKS.forEach(function(t){
    make('line',{x1:xAt(t),x2:xAt(t),y1:row.bottom,y2:row.bottom+5,stroke:'#444','stroke-width':1.6},axes);
    const lab=make('text',{x:xAt(t),y:row.bottom+27,'text-anchor':'middle','font-size':21},axes);
    lab.textContent=String(t);
    
    
  });
  for(let d=Math.floor(logMin);d<=Math.floor(logMax);d++){
    for(let m=1;m<=9;m++){
      const v=m*Math.pow(10,d);
      if(v<panel.yMin||v>panel.yMax){continue;}
      const isMajor=m===1;
      make('line',{x1:col.left-(isMajor?5:3.5),x2:col.left,y1:yAt(v),y2:yAt(v),stroke:'#444','stroke-width':isMajor?1.6:1.2},axes);
      if(isMajor){
        const lab=superscriptLabel(axes,col.left-9,yAt(v)+8,'10',String(d),21,15,9);
        
        
      }else if(panel.labeled.indexOf(v)>=0){
        const small=panel.smallLabels;
        const lab=superscriptLabel(axes,col.left-(small?14:10),yAt(v)+5,m+' \u00d7 10',String(d),small?13:15,small?9.5:10.5,6);
        
        
      }
    }
  }

  if(panel.inset){drawInset(panel,g,xAt,yAt);}

  const xTitle=make('text',{x:(col.left+col.right)/2,y:row.bottom+59,'text-anchor':'middle','font-size':33,class:'serif'},g);
  xTitle.textContent='Iterations';
  
  
  const cy=(row.top+row.bottom)/2;
  const yTitle=make('text',{x:panel.labelX,y:cy,'text-anchor':'middle','font-size':33,class:'serif',transform:'rotate(-90 '+panel.labelX+' '+cy+')'},g);
  yTitle.textContent='LogY--Fitness';
  
  
}

drawLegend();
PANELS.forEach(drawPanel);
</script>
</body>
</html>
